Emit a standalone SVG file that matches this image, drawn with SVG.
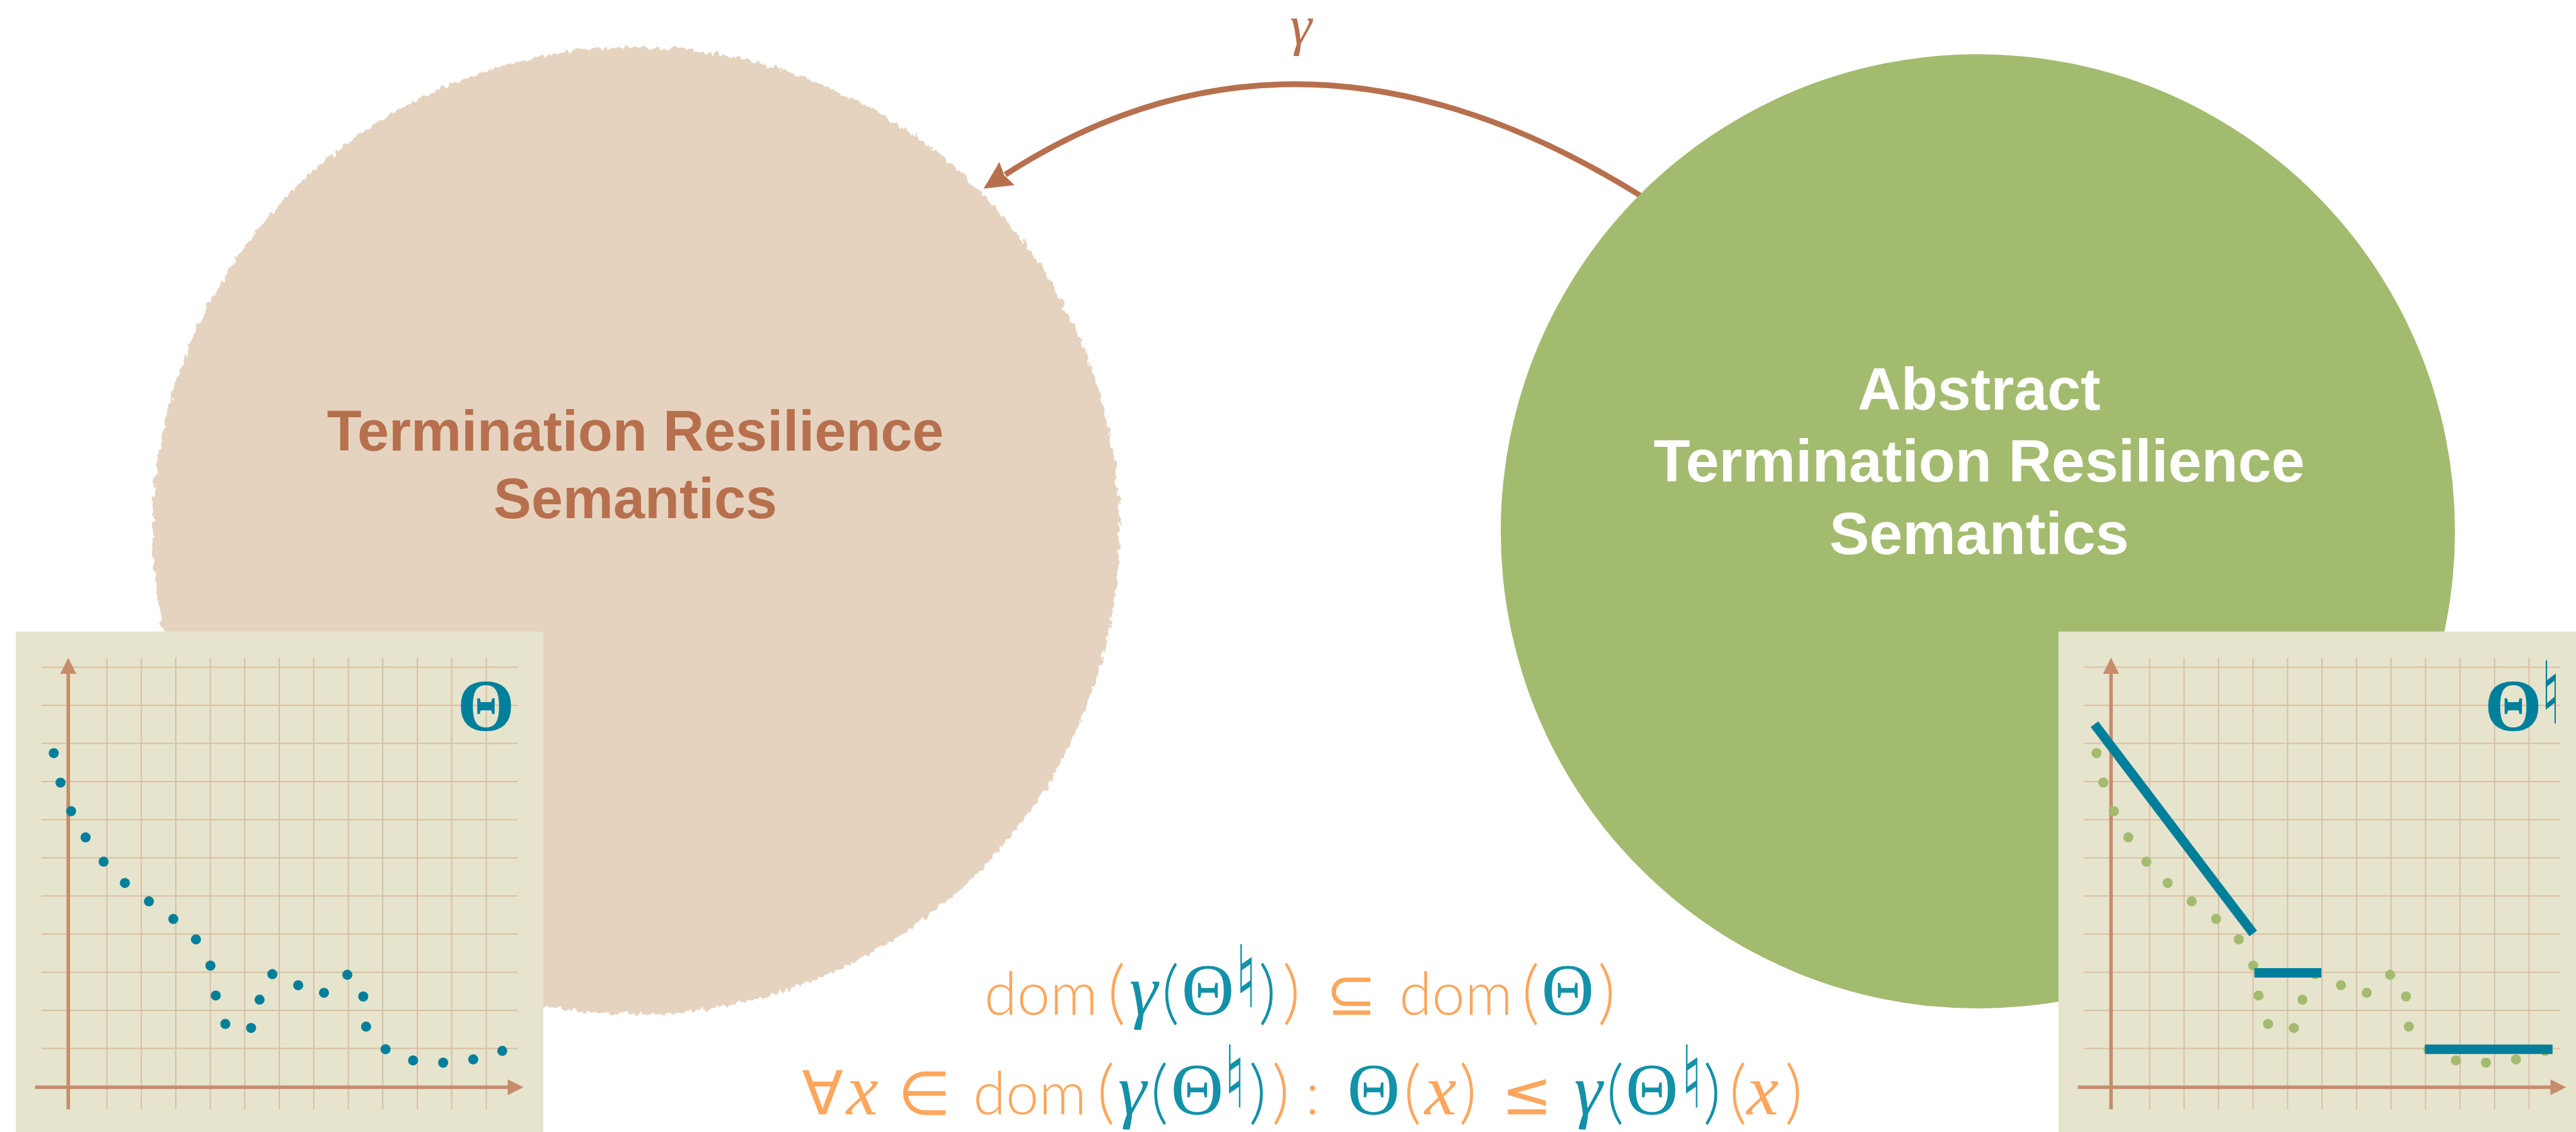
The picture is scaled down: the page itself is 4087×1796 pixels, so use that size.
<svg xmlns="http://www.w3.org/2000/svg" xmlns:xlink="http://www.w3.org/1999/xlink" width="4087" height="1796" viewBox="0 0 4087 1796">
<style>
.ttl{font-family:"Liberation Sans",Arial,sans-serif;font-weight:700;text-anchor:middle}
.ttl-l{font-size:90px;fill:#B7704E}
.ttl-r{font-size:95px;fill:#FFFFFF}
.grid line{stroke:#D9BFA2;stroke-width:2}
.axis{stroke:#C68C6C;stroke-width:5.6;fill:none}
.axhead{fill:#C68C6C}
.thB{font-family:"Liberation Serif","Times New Roman",serif;font-weight:700;font-size:117px;fill:#007F9B;text-anchor:middle}
.nat{font-family:"DejaVu Sans",sans-serif;font-size:137px;text-anchor:middle}
.bar{stroke:#007F9B;stroke-width:15;fill:none;stroke-linecap:butt}
.m{text-anchor:middle}
.o{fill:#FDA65C}
.t{fill:#1391A8}
.sf{font-family:Lato,"Liberation Sans",sans-serif;font-weight:300;font-size:94px}
.par{font-family:Lato,"Liberation Sans",sans-serif;font-weight:300;font-size:110px}
.th{font-family:"Liberation Serif","Times New Roman",serif;font-size:116px}
.it{font-family:"Liberation Serif","Times New Roman",serif;font-style:italic;font-size:114px}
.sym{font-family:"DejaVu Sans",sans-serif;font-size:96px}
.gam{font-family:"Liberation Serif","Times New Roman",serif;font-style:italic;font-size:88px;fill:#B7704E;text-anchor:middle}
</style>
<defs>
<filter id="rough" x="-5%" y="-5%" width="110%" height="110%">
<feTurbulence type="fractalNoise" baseFrequency="0.12 0.07" numOctaves="3" seed="7" result="n"/>
<feDisplacementMap in="SourceGraphic" in2="n" scale="14" xChannelSelector="R" yChannelSelector="G"/>
</filter>
<marker id="ah" markerUnits="userSpaceOnUse" viewBox="0 0 46 46" markerWidth="46" markerHeight="46" refX="3" refY="23" orient="auto">
<path d="M0,1 L44,23 L0,45 L5,23 z" fill="#B7704E"/>
</marker>
<g id="chartbase">
<g class="grid">
<line x1="169.5" y1="1043.5" x2="169.5" y2="1760"/>
<line x1="224.2" y1="1043.5" x2="224.2" y2="1760"/>
<line x1="278.9" y1="1043.5" x2="278.9" y2="1760"/>
<line x1="333.7" y1="1043.5" x2="333.7" y2="1760"/>
<line x1="388.4" y1="1043.5" x2="388.4" y2="1760"/>
<line x1="443.1" y1="1043.5" x2="443.1" y2="1760"/>
<line x1="497.9" y1="1043.5" x2="497.9" y2="1760"/>
<line x1="552.6" y1="1043.5" x2="552.6" y2="1760"/>
<line x1="607.3" y1="1043.5" x2="607.3" y2="1760"/>
<line x1="662.1" y1="1043.5" x2="662.1" y2="1760"/>
<line x1="716.8" y1="1043.5" x2="716.8" y2="1760"/>
<line x1="771.5" y1="1043.5" x2="771.5" y2="1760"/>
<line x1="65.7" y1="1058.6" x2="821.5" y2="1058.6"/>
<line x1="65.7" y1="1119.1" x2="821.5" y2="1119.1"/>
<line x1="65.7" y1="1179.6" x2="821.5" y2="1179.6"/>
<line x1="65.7" y1="1240.1" x2="821.5" y2="1240.1"/>
<line x1="65.7" y1="1300.6" x2="821.5" y2="1300.6"/>
<line x1="65.7" y1="1361.1" x2="821.5" y2="1361.1"/>
<line x1="65.7" y1="1421.6" x2="821.5" y2="1421.6"/>
<line x1="65.7" y1="1482.1" x2="821.5" y2="1482.1"/>
<line x1="65.7" y1="1542.6" x2="821.5" y2="1542.6"/>
<line x1="65.7" y1="1603.1" x2="821.5" y2="1603.1"/>
<line x1="65.7" y1="1663.6" x2="821.5" y2="1663.6"/>
</g>
<line class="axis" x1="108.3" y1="1760" x2="108.3" y2="1066"/>
<polygon class="axhead" points="108.3,1043.5 121,1069 95.6,1069"/>
<line class="axis" x1="55.6" y1="1725" x2="808" y2="1725"/>
<polygon class="axhead" points="830.5,1725 805.5,1737.5 805.5,1712.5"/>
</g>
<g id="dots">
<circle cx="85.3" cy="1194.9" r="8"/>
<circle cx="96" cy="1241.7" r="8"/>
<circle cx="112.8" cy="1287" r="8"/>
<circle cx="135.8" cy="1328.6" r="8"/>
<circle cx="164.4" cy="1367.1" r="8"/>
<circle cx="198.1" cy="1400.9" r="8"/>
<circle cx="236.3" cy="1430.1" r="8"/>
<circle cx="275" cy="1458.1" r="8"/>
<circle cx="310.9" cy="1490.4" r="8"/>
<circle cx="333.9" cy="1532" r="8"/>
<circle cx="342.3" cy="1579.4" r="8"/>
<circle cx="357.5" cy="1624.6" r="8"/>
<circle cx="398.4" cy="1630.9" r="8"/>
<circle cx="411.9" cy="1586.1" r="8"/>
<circle cx="432.1" cy="1545.6" r="8"/>
<circle cx="473.1" cy="1563.2" r="8"/>
<circle cx="514" cy="1575.2" r="8"/>
<circle cx="551.1" cy="1546.6" r="8"/>
<circle cx="576.3" cy="1581" r="8"/>
<circle cx="580.8" cy="1628.8" r="8"/>
<circle cx="611.7" cy="1664.7" r="8"/>
<circle cx="655.4" cy="1682.4" r="8"/>
<circle cx="703.1" cy="1686" r="8"/>
<circle cx="750.8" cy="1680.8" r="8"/>
<circle cx="796.9" cy="1667.3" r="8"/>
</g>
</defs>
<rect width="4087" height="1796" fill="#FFFFFF"/>

<g id="node-concrete">
<circle cx="1009" cy="842" r="767" fill="#E5D3BF" filter="url(#rough)"/>
<text class="ttl ttl-l" x="1008" y="715">Termination Resilience</text>
<text class="ttl ttl-l" x="1008" y="822">Semantics</text>
</g>

<g id="connectors">
<path d="M2618,320 L2602,310 Q2063,-25.5 1595,277" fill="none" stroke="#B7704E" stroke-width="9" marker-end="url(#ah)"/>
<text class="gam" x="2064" y="70">γ</text>
</g>

<g id="node-abstract">
<circle cx="3138" cy="843" r="757" fill="#A3BB6F"/>
<text class="ttl ttl-r" x="3140" y="650">Abstract</text>
<text class="ttl ttl-r" x="3140" y="764">Termination Resilience</text>
<text class="ttl ttl-r" x="3140" y="879">Semantics</text>
</g>

<g id="chart-concrete">
<rect x="25" y="1002" width="837" height="794" fill="#E6E4CD"/>
<use xlink:href="#chartbase"/>
<use xlink:href="#dots" fill="#007F9B"/>
<text class="thB" x="771" y="1159">Θ</text>
</g>

<g id="chart-abstract">
<rect x="3266" y="1002" width="837" height="794" fill="#E6E4CD"/>
<use xlink:href="#chartbase" x="3241"/>
<use xlink:href="#dots" x="3241" fill="#A3BB6F"/>
<line class="bar" x1="3323" y1="1149" x2="3575" y2="1481"/>
<line class="bar" x1="3576.7" y1="1543.5" x2="3683" y2="1543.5"/>
<line class="bar" x1="3847.4" y1="1664.7" x2="4049.8" y2="1664.7"/>
<text class="thB" x="3987.5" y="1159">Θ</text>
<text class="nat" transform="translate(4047,1148) scale(0.62,1)" fill="#007F9B">♮</text>
</g>

<g id="formula">
<text class="sf o m" x="1651.8" y="1610">dom</text>
<text class="par o m" x="1771.5" y="1612">(</text>
<text class="it t m" x="1814.5" y="1610">γ</text>
<text class="par t m" x="1857" y="1612">(</text>
<text class="th t m" x="1916.5" y="1610">Θ</text>
<text class="nat t" transform="translate(1977,1598) scale(0.7,1)">♮</text>
<text class="par t m" x="2011" y="1612">)</text>
<text class="par o m" x="2049" y="1612">)</text>
<text class="sym o m" x="2144" y="1610">⊆</text>
<text class="sf o m" x="2310" y="1610">dom</text>
<text class="par o m" x="2428.5" y="1612">(</text>
<text class="th t m" x="2487.5" y="1610">Θ</text>
<text class="par o m" x="2549" y="1612">)</text>

<text class="sym o m" x="1305" y="1768">∀</text>
<text class="it o m" x="1368" y="1768">x</text>
<text class="sym o m" x="1466.5" y="1768">∈</text>
<text class="sf o m" x="1634" y="1768">dom</text>
<text class="par o m" x="1754.5" y="1770">(</text>
<text class="it t m" x="1796.5" y="1768">γ</text>
<text class="par t m" x="1839.5" y="1770">(</text>
<text class="th t m" x="1899.5" y="1768">Θ</text>
<text class="nat t" transform="translate(1959,1757) scale(0.7,1)">♮</text>
<text class="par t m" x="1995.5" y="1770">)</text>
<text class="par o m" x="2032" y="1770">)</text>
<text class="sf o m" x="2082.5" y="1768">:</text>
<text class="th t m" x="2179.5" y="1768">Θ</text>
<text class="par o m" x="2241" y="1770">(</text>
<text class="it o m" x="2285.5" y="1768">x</text>
<text class="par o m" x="2329" y="1770">)</text>
<text class="sym o m" x="2422.5" y="1768">≤</text>
<text class="it t m" x="2520" y="1768">γ</text>
<text class="par t m" x="2562.5" y="1770">(</text>
<text class="th t m" x="2621" y="1768">Θ</text>
<text class="nat t" transform="translate(2684,1757) scale(0.7,1)">♮</text>
<text class="par t m" x="2716.5" y="1770">)</text>
<text class="par o m" x="2757.5" y="1770">(</text>
<text class="it o m" x="2796.5" y="1768">x</text>
<text class="par o m" x="2846" y="1770">)</text>
</g>
</svg>
